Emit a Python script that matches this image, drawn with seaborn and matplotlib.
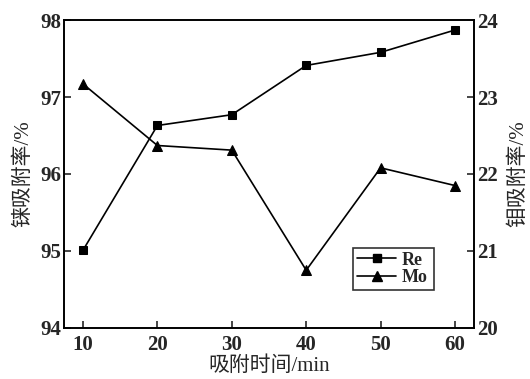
import pandas as pd
import seaborn as sns
import matplotlib.pyplot as plt
from matplotlib.lines import Line2D

# data
time_min = [10, 20, 30, 40, 50, 60]
re_rate = [95.01, 96.63, 96.77, 97.41, 97.58, 97.87]
mo_rate = [23.17, 22.37, 22.31, 20.75, 22.08, 21.85]
x_ticks = [10, 20, 30, 40, 50, 60]
left_ticks = [94, 95, 96, 97, 98]
right_ticks = [20, 21, 22, 23, 24]

sns.set_style("ticks")
plt.rcParams['font.family'] = ['Liberation Serif', 'Noto Sans CJK SC', 'DejaVu Sans']
plt.rcParams['axes.linewidth'] = 1.2

df = pd.DataFrame({"time": time_min, "Re": re_rate, "Mo": mo_rate})

fig = plt.figure(figsize=(5.3, 3.79), dpi=100)
ax = fig.add_axes([0.1208, 0.1346, 0.7735, 0.8126])
ax2 = ax.twinx()

sns.lineplot(data=df, x="time", y="Re", ax=ax, color="black", marker="s",
             markersize=6, linewidth=1.2, markeredgecolor="black")
sns.lineplot(data=df, x="time", y="Mo", ax=ax2, color="black", marker="^",
             markersize=7, linewidth=1.2, markeredgecolor="black")

ax.set_xlim(7.45, 62.55)
ax.set_ylim(94, 98)
ax2.set_ylim(20, 24)
ax.set_xticks(x_ticks)
ax.set_yticks(left_ticks)
ax2.set_yticks(right_ticks)

tick_font = dict(family='Liberation Serif', weight='bold', size=15)
for lbl in ax.get_xticklabels() + ax.get_yticklabels() + ax2.get_yticklabels():
    lbl.set_fontproperties(tick_font)

ax.tick_params(axis='x', direction='in', length=5, width=1.2, top=False, pad=5)
ax.tick_params(axis='y', direction='in', length=5, width=1.2, pad=2)
ax2.tick_params(axis='y', direction='in', length=5, width=1.2, pad=2)

for a in (ax, ax2):
    for s in a.spines.values():
        s.set_visible(True)
        s.set_color("black")
        s.set_linewidth(1.2)

ax.set_xlabel("吸附时间/min", fontsize=15, labelpad=1)
ax.set_ylabel("铼吸附率/%", fontsize=15, labelpad=5)
ax2.set_ylabel("钼吸附率/%", fontsize=15, labelpad=8)

handles = [
    Line2D([], [], color="black", marker="s", markersize=6, linewidth=1.2),
    Line2D([], [], color="black", marker="^", markersize=7, linewidth=1.2),
]
leg = ax2.legend(handles, ["Re", "Mo"], loc="lower left",
                 bbox_to_anchor=(0.705, 0.123, 0.197, 0.133), mode="expand",
                 frameon=True, fancybox=False, edgecolor="black",
                 prop=dict(family='Liberation Serif', weight='bold', size=13),
                 handlelength=2.2, handletextpad=0.3, borderpad=0.2,
                 labelspacing=0.05, borderaxespad=0)
leg.get_frame().set_linewidth(1.2)

fig.savefig("out.png", dpi=100)
